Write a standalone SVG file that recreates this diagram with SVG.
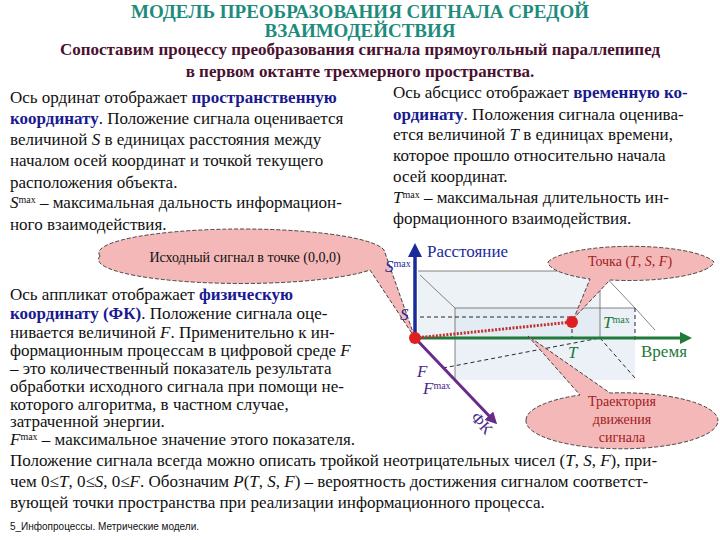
<svg xmlns="http://www.w3.org/2000/svg" width="720" height="540" viewBox="0 0 720 540" font-family="Liberation Serif, DejaVu Serif, serif">
<defs>
<style>
text{font-family:'Liberation Serif','Times New Roman','DejaVu Serif',serif;font-size:17px;fill:#111}
.t{fill:#1e8c7c;font-weight:bold;font-size:19px}
.h{fill:#4a1030;font-weight:bold;font-size:17px}
.b{font-weight:bold;fill:#1a1a90}
.call{fill:#f4b8b8;stroke:#444;stroke-dasharray:4 2;stroke-width:1}
.dash{stroke:#111;stroke-width:0.9;stroke-dasharray:4 3;fill:none}
.thin{stroke:#666;stroke-width:0.8;fill:none}
</style>
<marker id="ab" viewBox="0 0 10 10" refX="5" refY="5" markerWidth="4" markerHeight="4" orient="auto"><path d="M0,0L10,5L0,10z" fill="#1a2a9a"/></marker>
<marker id="ag" viewBox="0 0 10 10" refX="5" refY="5" markerWidth="4" markerHeight="4" orient="auto"><path d="M0,0L10,5L0,10z" fill="#207a3a"/></marker>
<marker id="ap" viewBox="0 0 10 10" refX="5" refY="5" markerWidth="4" markerHeight="4" orient="auto"><path d="M0,0L10,5L0,10z" fill="#6a2a8a"/></marker>
</defs>
<rect width="720" height="540" fill="#fff"/>
<g>
<text class="t" x="360" y="18" text-anchor="middle">МОДЕЛЬ ПРЕОБРАЗОВАНИЯ СИГНАЛА СРЕДОЙ</text>
<text class="t" x="360" y="37" text-anchor="middle">ВЗАИМОДЕЙСТВИЯ</text>
<text class="h" x="360" y="55" text-anchor="middle">Сопоставим процессу преобразования сигнала прямоугольный параллепипед</text>
<text class="h" x="360" y="77" text-anchor="middle">в первом октанте трехмерного пространства.</text>
<g id="leftText">
<text x="10" y="103">Ось ординат отображает <tspan class="b">пространственную</tspan></text>
<text x="10" y="124"><tspan class="b">координату</tspan>. Положение сигнала оценивается</text>
<text x="10" y="145">величиной <tspan font-style="italic">S</tspan> в единицах расстояния между</text>
<text x="10" y="166">началом осей координат и точкой текущего</text>
<text x="10" y="188">расположения объекта.</text>
<text x="10" y="208"><tspan font-style="italic">S</tspan><tspan font-size="10" dy="-5">max</tspan><tspan dy="5"> – максимальная дальность информацион-</tspan></text>
<text x="10" y="230">ного взаимодействия.</text>
</g>
<g id="rightText">
<text x="393" y="98">Ось абсцисс отображает <tspan class="b" style="fill:#1a1a90">временную ко-</tspan></text>
<text x="393" y="120"><tspan class="b" style="fill:#1a1a90">ординату</tspan>. Положения сигнала оценива-</text>
<text x="393" y="140">ется величиной <tspan font-style="italic">T</tspan> в единицах времени,</text>
<text x="393" y="161">которое прошло относительно начала</text>
<text x="393" y="182">осей координат.</text>
<text x="393" y="203"><tspan font-style="italic">T</tspan><tspan font-size="10" dy="-5">max</tspan><tspan dy="5"> – максимальная длительность ин-</tspan></text>
<text x="393" y="224">формационного взаимодействия.</text>
</g>
<g id="box">
<polygon points="418,338 418,271 600,271 600,338" fill="#e6edf3" opacity="0.7"/>
<polygon points="455,308 635,308 635,380 455,380" fill="#dde7f0" opacity="0.6"/>
<path class="thin" d="M418,271H600V338M420,275L455,308H635L600,271M455,308V380M635,308L655,330"/>
<path class="dash" d="M443,368L600,338M600,338L635,378M420,317H572M572,322V338M635,308V340"/>
</g>
<g id="connectors">
<line x1="415" y1="338" x2="415" y2="250" stroke="#1a2a9a" stroke-width="3.5" marker-end="url(#ab)"/>
<line x1="415" y1="338" x2="686" y2="338" stroke="#207a3a" stroke-width="3" marker-end="url(#ag)"/>
<line x1="415" y1="338" x2="493" y2="420" stroke="#6a2a8a" stroke-width="3" marker-end="url(#ap)"/>
<line x1="415" y1="338" x2="572" y2="322" stroke="#c03030" stroke-width="3" stroke-dasharray="2 1.5"/>
</g>
<g id="callout1">
<path class="call" d="M100,256 A143,24 0 0 1 384,250 L415,338 L370,270 A143,24 0 0 1 100,256z"/>
<text x="245" y="262" text-anchor="middle" style="font-size:14px">Исходный сигнал в точке (0,0,0)</text>
</g>
<g id="callout2">
<path class="call" d="M548,262 A85,20 0 0 1 714,262 A85,20 0 0 1 610,280 L574,318 L590,279 A85,20 0 0 1 548,262z"/>
<text x="630" y="266" text-anchor="middle" style="font-size:14px;fill:#a02020">Точка (<tspan font-style="italic">T</tspan>, <tspan font-style="italic">S</tspan>, <tspan font-style="italic">F</tspan>)</text>
</g>
<g id="callout3">
<path class="call" d="M526,420 A96,28 0 0 1 580,395 L528,336 L610,393 A96,28 0 1 1 526,420z"/>
<text x="622" y="406" text-anchor="middle" style="font-size:14px;fill:#a02020">Траектория</text>
<text x="622" y="424" text-anchor="middle" style="font-size:14px;fill:#a02020">движения</text>
<text x="622" y="442" text-anchor="middle" style="font-size:14px;fill:#a02020">сигнала</text>
</g>
<g id="points">
<circle cx="415" cy="338" r="6" fill="#e02020"/>
<circle cx="572" cy="322" r="6" fill="#e02020"/>
</g>
<g id="axisLabels">
<text x="427" y="257" style="fill:#1a2a9a">Расстояние</text>
<text x="385" y="272" font-style="italic" style="fill:#1a2a9a">S<tspan font-size="10" font-style="normal" dy="-5">max</tspan></text>
<text x="400" y="320" font-style="italic" style="fill:#1a2a9a;font-size:17px">S</text>
<text x="641" y="357" style="fill:#207a3a">Время</text>
<text x="568" y="358" font-style="italic" style="fill:#207a3a;font-size:17px">T</text>
<text x="603" y="328" font-style="italic" style="fill:#207a3a">T<tspan font-size="10" font-style="normal" dy="-5">max</tspan></text>
<text x="417" y="377" font-style="italic" style="fill:#4a2a8a;font-size:17px">F</text>
<text x="423" y="394" font-style="italic" style="fill:#4a2a8a">F<tspan font-size="10" font-style="normal" dy="-5">max</tspan></text>
<text x="0" y="0" style="fill:#4a2a8a;font-size:16px" transform="translate(470,418) rotate(48)">ФК</text>
</g>
<g id="bottomLeft">
<text x="10" y="300">Ось аппликат отображает <tspan font-weight="bold" style="fill:#1a1a90">физическую</tspan></text>
<text x="10" y="319"><tspan font-weight="bold" style="fill:#1a1a90">координату (ФК)</tspan>. Положение сигнала оце-</text>
<text x="10" y="338">нивается величиной <tspan font-style="italic">F</tspan>. Применительно к ин-</text>
<text x="10" y="356">формационным процессам в цифровой среде <tspan font-style="italic">F</tspan></text>
<text x="10" y="374">– это количественный показатель результата</text>
<text x="10" y="392">обработки исходного сигнала при помощи не-</text>
<text x="10" y="410">которого алгоритма, в частном случае,</text>
<text x="10" y="427">затраченной энергии.</text>
<text x="10" y="445"><tspan font-style="italic">F</tspan><tspan font-size="10" dy="-5">max</tspan><tspan dy="5"> – максимальное значение этого показателя.</tspan></text>
</g>
<g id="bottom">
<text x="10" y="466">Положение сигнала всегда можно описать тройкой неотрицательных чисел (<tspan font-style="italic">T</tspan>, <tspan font-style="italic">S</tspan>, <tspan font-style="italic">F</tspan>), при-</text>
<text x="10" y="487">чем 0≤<tspan font-style="italic">T</tspan>, 0≤<tspan font-style="italic">S</tspan>, 0≤<tspan font-style="italic">F</tspan>. Обозначим <tspan font-style="italic">P</tspan>(<tspan font-style="italic">T</tspan>, <tspan font-style="italic">S</tspan>, <tspan font-style="italic">F</tspan>) – вероятность достижения сигналом соответст-</text>
<text x="10" y="508">вующей точки пространства при реализации информационного процесса.</text>
<text x="10" y="530" style="font-family:'Liberation Sans',sans-serif;font-size:10px">5_Инфопроцессы. Метрические модели.</text>
</g>
</g>
</svg>
